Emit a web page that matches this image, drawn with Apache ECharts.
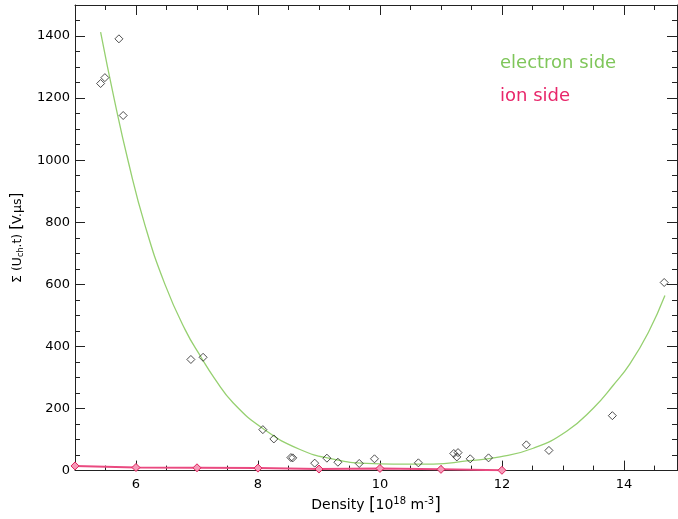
<!DOCTYPE html>
<html>
<head>
<meta charset="utf-8">
<script src="https://cdn.jsdelivr.net/npm/echarts@6/dist/echarts.min.js"></script>
<style>html,body{margin:0;padding:0;background:#fff}#c{width:678px;height:519px}</style>
</head>
<body>
<div id="c"></div>
<script>
// Electron side measurements
const electronX = [5.42, 5.49, 5.72, 5.79, 6.90, 7.10, 8.08, 8.26, 8.54, 8.57, 8.93, 9.13, 9.31, 9.66, 9.91, 10.63, 11.21, 11.26, 11.28, 11.48, 11.78, 12.40, 12.77, 13.81, 14.66];
const electronY = [1247, 1266, 1391, 1144, 358, 365, 132, 102, 42, 41, 24, 40, 27, 23, 38, 25, 55, 44, 58, 38, 41, 83, 65, 177, 606];
// Electron side fit curve
const fitX = [5.42, 5.644, 5.874, 6.148, 6.475, 6.803, 7.077, 7.284, 7.595, 8.087, 8.689, 9.234, 9.782, 10.218, 10.874, 11.421, 11.967, 12.513, 13.061, 13.497, 13.825, 14.098, 14.40, 14.672];
const fitY = [1413, 1196, 995, 790, 600, 455, 362, 298, 218, 135, 68, 37, 23, 21, 21, 31, 44, 72, 127, 201, 275, 344, 445, 564];
// Ion side
const ionX = [5, 6, 7, 8, 9, 10, 11, 12];
const ionY = [15, 10, 9, 8, 5, 7, 4, 1];
// Tick labels
const xLabels = [6, 8, 10, 12, 14];
const yLabels = [0, 200, 400, 600, 800, 1000, 1200, 1400];

const zip = (a, b) => a.map((v, i) => [v, b[i]]);
const FONT = 'DejaVu Sans';
const XMIN = 5, XMAX = 14.87, YMIN = 0, YMAX = 1500;
const lineCol = '#222';

function xAx(pos, major, labels) {
  return {
    type: 'value', position: pos, min: XMIN, max: XMAX, interval: 0.5,
    axisLine: { show: !major, onZero: false, lineStyle: { color: lineCol, width: 1 } },
    axisTick: major ? { show: true, inside: true, length: 10, customValues: xLabels, lineStyle: { color: lineCol } }
                    : { show: true, inside: true, length: 5, lineStyle: { color: lineCol } },
    axisLabel: labels ? { show: true, customValues: xLabels, formatter: v => String(v), fontFamily: FONT, fontSize: 13, color: '#000', margin: 8 } : { show: false },
    splitLine: { show: false },
    name: labels ? 'Density {br|[}10{sup|18} m{sup|-3}{br|]}' : '',
    nameLocation: 'middle', nameGap: 23,
    nameTextStyle: { fontFamily: FONT, fontSize: 14, color: '#000',
      rich: { sup: { fontSize: 10, verticalAlign: 'top', padding: [0, 0, 8, 0], fontFamily: FONT, color: '#000' },
              br: { fontSize: 17, fontFamily: FONT, color: '#000' } } }
  };
}
function yAx(pos, major, labels) {
  return {
    type: 'value', position: pos, min: YMIN, max: YMAX, interval: 50,
    axisLine: { show: !major, onZero: false, lineStyle: { color: lineCol, width: 1 } },
    axisTick: major ? { show: true, inside: true, length: 10, customValues: yLabels, lineStyle: { color: lineCol } }
                    : { show: true, inside: true, length: 5, lineStyle: { color: lineCol } },
    axisLabel: labels ? { show: true, customValues: yLabels, formatter: v => String(v), fontFamily: FONT, fontSize: 13, color: '#000', margin: 5 } : { show: false },
    splitLine: { show: false },
    name: labels ? 'Σ (U{sub|ch}.t) {br|[}V.μs{br|]}' : '',
    nameLocation: 'middle', nameGap: 50, nameRotate: 90,
    nameTextStyle: { fontFamily: FONT, fontSize: 12.5, color: '#000',
      rich: { sub: { fontSize: 8, fontFamily: FONT, color: '#000', padding: [6, 0, 0, 0] },
              br: { fontSize: 15, fontFamily: FONT, color: '#000' } } }
  };
}

const chart = echarts.init(document.getElementById('c'), null, { renderer: 'canvas' });
chart.setOption({
  backgroundColor: '#fff',
  animation: false,
  grid: { left: 75, right: 1, top: 5, bottom: 42, containLabel: false },
  xAxis: [xAx('bottom', false, true), xAx('bottom', true, false), xAx('top', false, false), xAx('top', true, false)],
  yAxis: [yAx('left', false, true), yAx('left', true, false), yAx('right', false, false), yAx('right', true, false)],
  graphic: [
    { type: 'text', left: 500, top: 54, style: { text: 'electron side', fill: '#7fc65a', font: '18px "DejaVu Sans"' } },
    { type: 'text', left: 500, top: 87, style: { text: 'ion side', fill: '#e8266a', font: '18px "DejaVu Sans"' } }
  ],
  series: [
    { type: 'line', name: 'fit', data: zip(fitX, fitY), smooth: 0.5, showSymbol: false, symbol: 'none',
      lineStyle: { color: '#96d070', width: 1.3 }, z: 2 },
    { type: 'line', name: 'ion', data: zip(ionX, ionY), symbol: 'diamond', symbolSize: 8,
      lineStyle: { color: '#ea4a80', width: 2 },
      itemStyle: { color: '#f59ab8', borderColor: '#e0205c', borderWidth: 1 }, z: 3 },
    { type: 'scatter', name: 'electron', data: zip(electronX, electronY), symbol: 'diamond', symbolSize: [8, 8],
      itemStyle: { color: 'rgba(255,255,255,0)', borderColor: '#222', borderWidth: 1 }, z: 4 }
  ]
});
</script>
</body>
</html>
